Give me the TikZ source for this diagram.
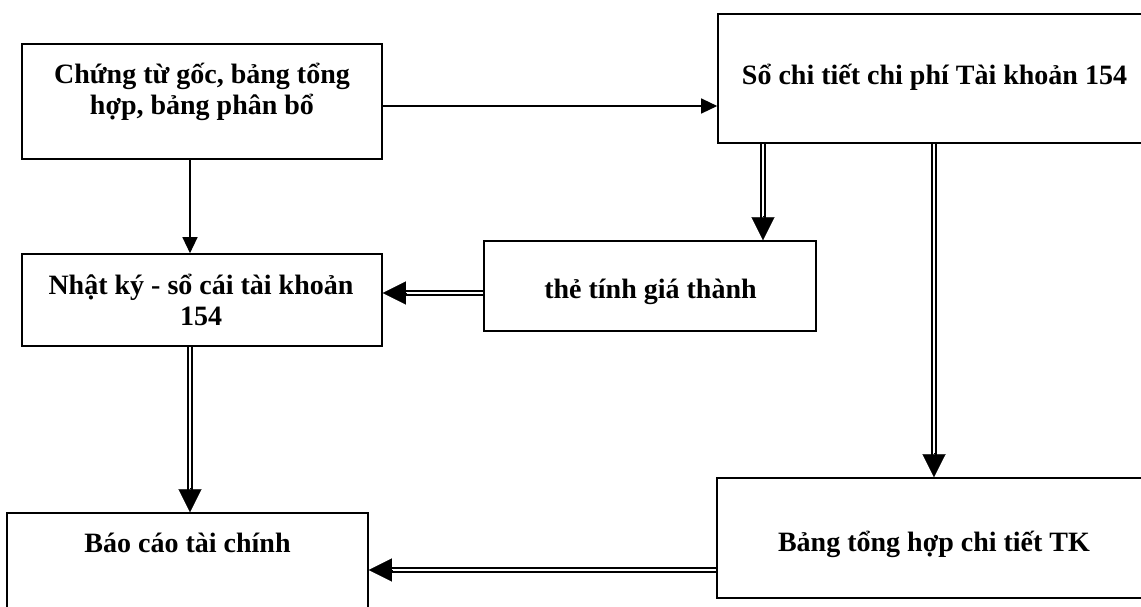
\documentclass[tikz,border=0pt]{standalone}
\usepackage{fontspec}
\setmainfont{Liberation Serif}
\usetikzlibrary{arrows.meta,calc}
\begin{document}
\begin{tikzpicture}[x=1pt,y=-1pt,
  box/.style={draw, rectangle, line width=1.6pt, inner sep=0pt},
  lbl/.style={font=\fontsize{28}{31}\selectfont\bfseries, align=center, inner sep=0pt},
  sgl/.style={line width=1.3pt, -{Triangle[length=16pt,width=15pt]}},
  dbl/.style={double, double distance=2pt, line width=1.7pt, shorten >=21pt},
  tipend/.style={line width=0.1pt, -{Triangle[length=23pt,width=23pt]}}]
\useasboundingbox (0,0) rectangle (1141,606);
\clip (0,0) rectangle (1141,606);

% boxes
\node[box, minimum width=360pt, minimum height=115pt] (src)     at (202,101.5) {};
\node[box, minimum width=432pt, minimum height=129pt] (ledger)  at (934,78.5)  {};
\node[box, minimum width=360pt, minimum height=92pt]  (journal) at (202,300)   {};
\node[box, minimum width=332pt, minimum height=90pt]  (card)    at (650,286)   {};
\node[box, minimum width=361pt, minimum height=137pt] (report)  at (187.5,581.5) {};
\node[box, minimum width=433pt, minimum height=120pt] (summary) at (933.5,538) {};

% labels
\node[lbl] (srcT)     at (202,91.5)  {Chứng từ gốc, bảng tổng\\hợp, bảng phân bổ};
\node[lbl] (ledgerT)  at (934.5,77)  {Sổ chi tiết chi phí Tài khoản 154};
\node[lbl] (journalT) at (201,300)   {Nhật ký - sổ cái tài khoản\\154};
\node[lbl] (cardT)    at (650.5,292) {thẻ tính giá thành};
\node[lbl] (reportT)  at (187.5,543) {Báo cáo tài chính};
\node[lbl] (summaryT) at (934,544)   {Bảng tổng hợp chi tiết TK};

% connector lanes
\coordinate (laneA) at (763,0);
\coordinate (laneB) at (934,0);
\coordinate (laneC) at (0,106);
\coordinate (laneD) at (190,0);
\coordinate (laneE) at (0,293);
\coordinate (laneF) at (0,570);

\newcommand\dblarrow[2]{%
  \draw[dbl] #1 -- #2;
  \draw[tipend] ($#2!24pt!#1$) -- #2;}

% single arrows
\draw[sgl] (src.east |- laneC) -- (ledger.west |- laneC);
\draw[sgl] (src.south -| laneD) -- (journal.north -| laneD);

% double arrows
\dblarrow{(ledger.south -| laneA)}{(card.north -| laneA)}
\dblarrow{(ledger.south -| laneB)}{(summary.north -| laneB)}
\dblarrow{(card.west |- laneE)}{(journal.east |- laneE)}
\dblarrow{(journal.south -| laneD)}{(report.north -| laneD)}
\dblarrow{(summary.west |- laneF)}{(report.east |- laneF)}
\end{tikzpicture}
\end{document}
